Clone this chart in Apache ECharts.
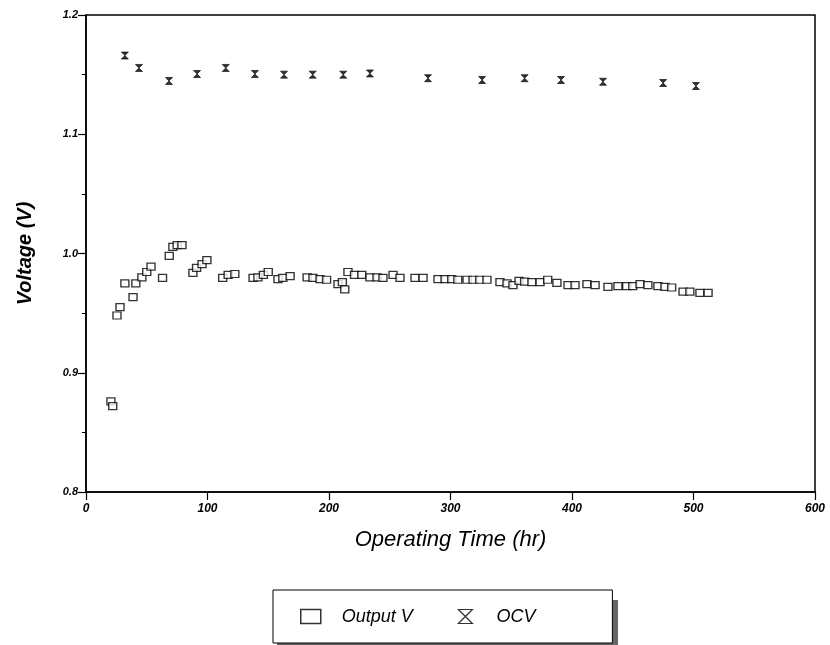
<!DOCTYPE html>
<html>
<head>
    <title>Voltage vs Operating Time</title>
    <script src="https://cdn.jsdelivr.net/npm/echarts@6/dist/echarts.min.js"></script>
    <style>
        body { margin: 0; background: #fff; }
        #chart { width: 830px; height: 645px; }
    </style>
</head>
<body>
    <div id="chart"></div>
    <script>
        // Output V (squares): operating time (hr) and voltage (V)
        const outputTime = [20.5, 22, 25.5, 28, 32, 38.7, 41, 46, 50, 53.5, 63, 68.5, 71.5, 75, 79,
            88, 91, 95.5, 99.5, 112.5, 117, 122.5, 137.5, 141.5, 146, 150, 158, 162, 168,
            182, 186.8, 192.6, 198, 207.4, 211, 213, 215.6, 221, 227, 233.7, 239.5, 244.4,
            252.7, 258.4, 270.8, 277.4, 289.7, 295.5, 301, 306, 313.6, 318.5, 324, 330,
            340.7, 346.5, 351.4, 356.4, 361, 367, 373.7, 380, 387.6, 396.7, 402.5, 412.3,
            419, 429.6, 437.8, 445, 450, 456, 462.5, 470.7, 476.5, 482, 491.4, 497, 505.3, 512];
        const outputVolt = [0.876, 0.872, 0.948, 0.955, 0.975, 0.9635, 0.975, 0.980, 0.9845, 0.989, 0.9795, 0.998, 1.0055, 1.007, 1.007,
            0.9837, 0.988, 0.991, 0.9945, 0.9795, 0.982, 0.9828, 0.9795, 0.980, 0.982, 0.9845, 0.9786, 0.9795, 0.981,
            0.980, 0.9795, 0.9786, 0.978, 0.9744, 0.976, 0.970, 0.9845, 0.982, 0.982, 0.980, 0.980, 0.9795,
            0.982, 0.9795, 0.9795, 0.9795, 0.9786, 0.9786, 0.9786, 0.978, 0.978, 0.978, 0.978, 0.978,
            0.976, 0.975, 0.9735, 0.977, 0.9765, 0.976, 0.976, 0.978, 0.9753, 0.9735, 0.9735, 0.9744,
            0.9735, 0.972, 0.9727, 0.9727, 0.9727, 0.9744, 0.9735, 0.9727, 0.972, 0.9715, 0.968, 0.968, 0.967, 0.967];

        // OCV (hourglass markers)
        const ocvTime = [32, 43.6, 68.3, 91.4, 115, 139, 163, 186.6, 211.7, 233.7, 281.5, 326, 361, 391, 425.5, 475, 502];
        const ocvVolt = [1.166, 1.1556, 1.1447, 1.1505, 1.1556, 1.1505, 1.150, 1.150, 1.150, 1.151, 1.147, 1.1455, 1.147, 1.1455, 1.144, 1.143, 1.1405];

        const xTicks = [0, 100, 200, 300, 400, 500, 600];
        const yTicks = [0.8, 0.9, 1.0, 1.1, 1.2];

        const hourglass = 'path://M0,0 L10,0 L0,10 L10,10 Z';
        const font = '"Liberation Sans", Arial, sans-serif';

        const chart = echarts.init(document.getElementById('chart'));

        chart.setOption({
            animation: false,
            grid: {
                left: 86,
                right: 15,
                top: 15,
                bottom: 153,
                outerBoundsMode: 'none',
                containLabel: false,
                show: true,
                borderColor: '#000',
                borderWidth: 1.5,
                backgroundColor: '#fff'
            },
            // dark strip behind the legend box, like the printed drop shadow
            graphic: [{
                type: 'rect',
                left: 277,
                top: 600,
                z: 1,
                shape: { width: 341, height: 45 },
                style: { fill: '#666' }
            }],
            legend: {
                left: 273,
                top: 590,
                z: 5,
                padding: [11, 77, 11, 27],
                orient: 'horizontal',
                itemWidth: 20,
                itemHeight: 14,
                itemGap: 45,
                borderColor: '#000',
                borderWidth: 1,
                backgroundColor: '#fff',
                textStyle: {
                    fontFamily: font,
                    fontStyle: 'italic',
                    fontSize: 18,
                    color: '#000',
                    padding: [0, 0, 0, 16]
                },
                data: [
                    { name: 'Output V', icon: 'rect', itemStyle: { color: '#fff', borderColor: '#000', borderWidth: 1.5 } },
                    { name: 'OCV', icon: hourglass, itemStyle: { color: '#fff', borderColor: '#000', borderWidth: 1.2 } }
                ]
            },
            xAxis: {
                type: 'value',
                min: 0,
                max: 600,
                interval: 100,
                name: 'Operating Time (hr)',
                nameLocation: 'middle',
                nameGap: 29,
                nameMoveOverlap: false,
                nameTextStyle: {
                    fontFamily: font,
                    fontStyle: 'italic',
                    fontSize: 22,
                    color: '#000'
                },
                axisLine: { lineStyle: { color: '#000', width: 1.5 } },
                axisTick: { length: 8, lineStyle: { color: '#000', width: 1.2 } },
                splitLine: { show: false },
                axisLabel: {
                    fontFamily: font,
                    fontStyle: 'italic',
                    fontWeight: 'bold',
                    fontSize: 12,
                    color: '#000',
                    margin: 6,
                    formatter: v => xTicks.includes(v) ? String(v) : ''
                }
            },
            yAxis: {
                type: 'value',
                min: 0.8,
                max: 1.2,
                interval: 0.1,
                name: 'Voltage (V)',
                nameLocation: 'middle',
                nameGap: 43,
                nameMoveOverlap: false,
                nameTextStyle: {
                    fontFamily: font,
                    fontStyle: 'italic',
                    fontWeight: 'bold',
                    fontSize: 20,
                    color: '#000'
                },
                axisLine: { show: true, lineStyle: { color: '#000', width: 1.5 } },
                axisTick: { show: true, length: 8, lineStyle: { color: '#000', width: 1.2 } },
                minorTick: { show: true, splitNumber: 2, length: 4, lineStyle: { color: '#000' } },
                splitLine: { show: false },
                axisLabel: {
                    fontFamily: font,
                    fontStyle: 'italic',
                    fontWeight: 'bold',
                    fontSize: 11,
                    color: '#000',
                    margin: 8,
                    formatter: v => yTicks.some(t => Math.abs(t - v) < 1e-6) ? v.toFixed(1) : ''
                }
            },
            series: [
                {
                    name: 'Output V',
                    type: 'scatter',
                    symbol: 'rect',
                    symbolSize: [8, 7],
                    itemStyle: { color: '#fff', borderColor: '#000', borderWidth: 1.3 },
                    data: outputTime.map((t, i) => [t, outputVolt[i]])
                },
                {
                    name: 'OCV',
                    type: 'scatter',
                    symbol: hourglass,
                    symbolSize: [7, 7],
                    itemStyle: { color: '#000', borderColor: '#000', borderWidth: 0.8 },
                    data: ocvTime.map((t, i) => [t, ocvVolt[i]])
                }
            ]
        });
    </script>
</body>
</html>
